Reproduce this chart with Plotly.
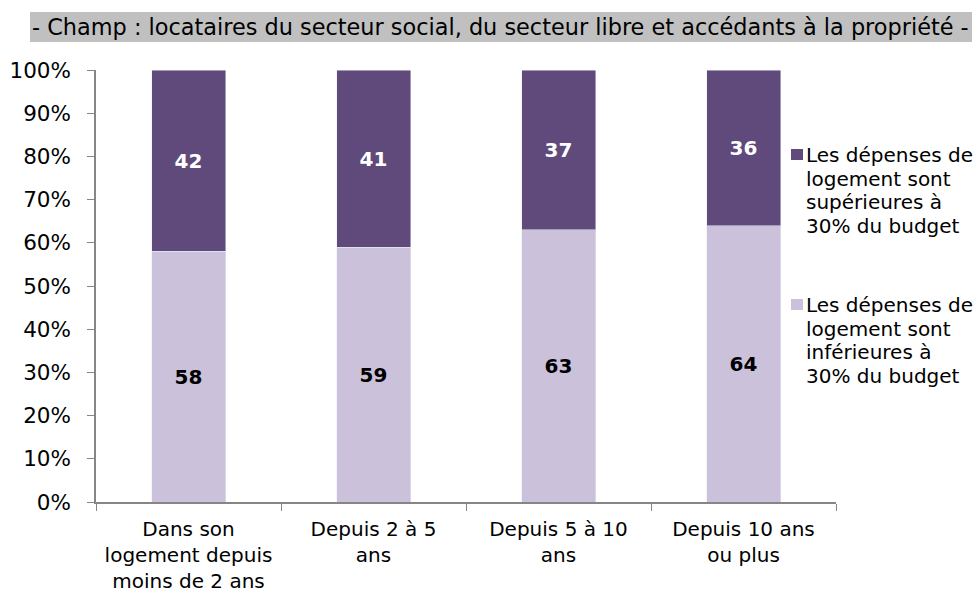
import plotly.graph_objects as go

categories = ["Dans son<br>logement depuis<br>moins de 2 ans", "Depuis 2 à 5<br>ans",
              "Depuis 5 à 10<br>ans", "Depuis 10 ans<br>ou plus"]
inferieures = [58, 59, 63, 64]
superieures = [42, 41, 37, 36]
lines_sup = ["Les dépenses de", "logement sont", "supérieures à", "30% du budget"]
lines_inf = ["Les dépenses de", "logement sont", "inférieures à", "30% du budget"]
title_text = "- Champ : locataires du secteur social, du secteur libre et accédants à la propriété -"
yticks = [0, 10, 20, 30, 40, 50, 60, 70, 80, 90, 100]

FONT = "DejaVu Sans"
dark = "#604A7B"
light = "#CCC1DA"

W, H = 978, 592
L, R, T, B = 96, 142, 70, 90
PW, PH = W - L - R, H - T - B


def px(x):  # screenshot x -> paper
    return (x - L) / PW


def py(y):  # screenshot y -> paper
    return (T + PH - y) / PH


fig = go.Figure()
fig.add_trace(go.Bar(x=categories, y=inferieures, name="inf", marker_color=light,
                     text=[str(v) for v in inferieures], textposition="inside",
                     insidetextanchor="middle",
                     textfont=dict(family=FONT, size=20, color="black", weight="bold"),
                     width=0.4, hoverinfo="skip"))
fig.add_trace(go.Bar(x=categories, y=superieures, name="sup", marker_color=dark,
                     text=[str(v) for v in superieures], textposition="inside",
                     insidetextanchor="middle",
                     textfont=dict(family=FONT, size=20, color="white", weight="bold"),
                     width=0.4, hoverinfo="skip"))

fig.update_layout(
    barmode="stack",
    width=W, height=H,
    margin=dict(l=L, r=R, t=T, b=B, autoexpand=False),
    plot_bgcolor="white", paper_bgcolor="white",
    font=dict(family=FONT, size=20, color="black"),
    showlegend=False,
    uniformtext=dict(mode=False),
)
fig.update_xaxes(showline=True, linecolor="#868686", linewidth=1.5,
                 ticks="outside", tickson="boundaries", ticklen=7, tickcolor="#868686",
                 tickfont=dict(family=FONT, size=20), showgrid=False, automargin=False,
                 ticklabelstandoff=8)
fig.update_yaxes(range=[0, 100], tickvals=yticks, ticktext=[f"{v}%" for v in yticks],
                 showline=True, linecolor="#868686", linewidth=1.5,
                 ticks="outside", ticklen=7, tickcolor="#868686",
                 tickfont=dict(family=FONT, size=21.5), showgrid=False, zeroline=False,
                 automargin=False, ticklabelstandoff=12)

# title bar
fig.add_shape(type="rect", xref="paper", yref="paper",
              x0=px(30), x1=px(972), y0=py(42), y1=py(12),
              fillcolor="#C0C0C0", line_width=0, layer="below")
fig.add_annotation(xref="paper", yref="paper", x=px(501), y=py(27),
                   xanchor="center", yanchor="middle", text=title_text, showarrow=False,
                   font=dict(family=FONT, size=22.4, color="black"))

# legend (drawn manually)
for color, lines, top in [(dark, lines_sup, 149), (light, lines_inf, 299)]:
    fig.add_shape(type="rect", xref="paper", yref="paper",
                  x0=px(791), x1=px(803), y0=py(top + 11), y1=py(top),
                  fillcolor=color, line_width=0)
    for i, t in enumerate(lines):
        fig.add_annotation(xref="paper", yref="paper", x=px(804), y=py(top + 6 + i * 23.7),
                           xanchor="left", yanchor="middle", text=t, showarrow=False,
                           font=dict(family=FONT, size=20, color="black"))

fig.write_html("out.html", config={"displayModeBar": False},
               post_script="document.body.style.margin='0';")
